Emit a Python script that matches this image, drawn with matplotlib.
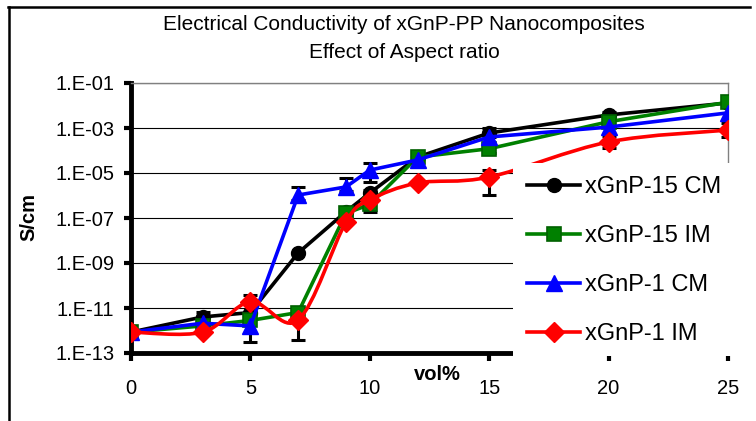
import matplotlib
matplotlib.use('Agg')
import matplotlib.pyplot as plt
import numpy as np
from matplotlib import ticker
from matplotlib.lines import Line2D
from matplotlib.patches import Rectangle, PathPatch
from matplotlib.path import Path

# data (S/cm vs vol%)
vol = [0, 3, 5, 7, 9, 10, 12, 15, 20, 25]
cm15 = [8.5e-13, 4.0e-12, 6.3e-12, 2.8e-9, 1.9e-7, 1.3e-6, 5.1e-5, 6.0e-4, 3.8e-3, 1.3e-2]
im15 = [8.5e-13, 1.6e-12, 2.8e-12, 6.3e-12, 1.6e-7, 4.0e-7, 5.1e-5, 1.2e-4, 1.9e-3, 1.4e-2]
cm1 = [8.5e-13, 2.1e-12, 1.6e-12, 1.05e-6, 2.4e-6, 1.35e-5, 3.8e-5, 4.0e-4, 1.1e-3, 4.7e-3]
im1 = [8.5e-13, 8.5e-13, 1.9e-11, 2.9e-12, 6.6e-8, 6.3e-7, 3.6e-6, 6.6e-6, 2.4e-4, 8.1e-4]

# error bar bounds (low, high); nan = none visible
nan = np.nan
cm15_lo = [nan, 2.5e-12, 3.2e-13, nan, 1.2e-7, 5.0e-7, nan, 4.0e-4, 2.5e-3, nan]
cm15_hi = [nan, 6.6e-12, 3.8e-11, nan, 3.2e-7, 1.7e-6, nan, 1.0e-3, 5.1e-3, nan]
im15_lo = [nan, nan, nan, 3.8e-13, nan, 1.9e-7, nan, 7.9e-5, nan, 1.0e-2]
im15_hi = [nan, nan, nan, 1.0e-11, nan, 7.9e-7, nan, 1.6e-4, nan, 1.8e-2]
cm1_lo = [nan, nan, nan, 6.3e-7, 1.6e-6, 4.0e-6, nan, nan, nan, nan]
cm1_hi = [nan, nan, nan, 2.4e-6, 6.0e-6, 2.75e-5, nan, nan, nan, nan]
im1_lo = [nan, nan, nan, nan, nan, nan, nan, 1.05e-6, 1.3e-4, 4.0e-4]
im1_hi = [nan, nan, nan, nan, nan, nan, nan, 1.35e-5, 4.5e-4, 1.66e-3]

labels = ['xGnP-15 CM', 'xGnP-15 IM', 'xGnP-1 CM', 'xGnP-1 IM']
title1 = 'Electrical Conductivity of xGnP-PP Nanocomposites'
title2 = 'Effect of Aspect ratio'

W, H = 756, 421
def fx(p):
    return p / W
def fy(p):
    return 1 - p / H

plt.rcParams['font.family'] = ['Liberation Sans', 'DejaVu Sans']
fig = plt.figure(figsize=(7.56, 4.21), dpi=100)
ax = fig.add_axes([fx(131), fy(353), fx(728) - fx(131), fy(83) - fy(353)])
ax.set_yscale('log')
ax.set_xlim(0, 25)
ax.set_ylim(1e-13, 1e-1)

# error bars (black)
for v, lo, hi in [(cm15, cm15_lo, cm15_hi), (im15, im15_lo, im15_hi),
                  (cm1, cm1_lo, cm1_hi), (im1, im1_lo, im1_hi)]:
    v = np.asarray(v); lo = np.asarray(lo); hi = np.asarray(hi)
    m = ~np.isnan(lo)
    xs = np.asarray(vol)[m]
    ax.errorbar(xs, v[m], yerr=[v[m] - lo[m], hi[m] - v[m]], fmt='none',
                ecolor='k', elinewidth=2.2, capsize=5, capthick=2.2, zorder=2)

lw = 2.6
h1, = ax.plot(vol, cm15, color='k', lw=lw, marker='o', ms=10, zorder=3)
h2, = ax.plot(vol, im15, color='#008000', lw=lw, marker='s', ms=9.5,
              mfc='#008000', mec='#006000', mew=1.2, zorder=4)
h3, = ax.plot(vol, cm1, color='#0000ff', lw=lw, marker='^', ms=11, zorder=5)

# smoothed red line (Catmull-Rom style bezier, in x / log10(y) space)
px = np.asarray(vol, dtype=float)
py = np.log10(im1)
pts = np.column_stack([px, py])
ext = np.vstack([pts[0], pts, pts[-1]])
verts = [tuple(pts[0])]
codes = [Path.MOVETO]
for i in range(len(pts) - 1):
    p0, p1, p2, p3 = ext[i], ext[i + 1], ext[i + 2], ext[i + 3]
    c1 = p1 + (p2 - p0) / 6.0
    c2 = p2 - (p3 - p1) / 6.0
    verts += [tuple(c1), tuple(c2), tuple(p2)]
    codes += [Path.CURVE4] * 3
verts = np.array(verts)
verts[:, 1] = 10 ** verts[:, 1]
ax.add_patch(PathPatch(Path(verts, codes), fill=False, edgecolor='#ff0000',
                       lw=lw, zorder=6, capstyle='round', joinstyle='round'))
ax.plot(vol, im1, ls='none', marker='D', ms=10, color='#ff0000', zorder=7)
h4 = Line2D([], [], color='#ff0000', lw=lw, marker='D', ms=10)

# axes styling
ax.yaxis.set_major_locator(ticker.FixedLocator([10.0 ** e for e in range(-13, 0, 2)]))
ax.yaxis.set_minor_locator(ticker.NullLocator())
ax.yaxis.set_major_formatter(ticker.FuncFormatter(
    lambda v, p: '1.E-%02d' % int(round(-np.log10(v)))))
ax.set_xticks([0, 5, 10, 15, 20, 25])
ax.grid(axis='y', color='k', lw=0.8)
ax.set_axisbelow(True)
for s in ['left', 'bottom']:
    ax.spines[s].set_linewidth(3.5)
    ax.spines[s].set_color('k')
for s in ['top', 'right']:
    ax.spines[s].set_linewidth(1.0)
    ax.spines[s].set_color('#808080')
ax.tick_params(axis='y', which='major', direction='out', length=5, width=3,
               labelsize=14.5, pad=7)
ax.tick_params(axis='x', which='major', direction='out', length=6, width=3,
               labelsize=14.5, pad=13)

fig.text(fx(29), fy(217), 'S/cm', rotation=90, ha='center', va='center',
         fontsize=14.5, fontweight='bold')
fig.text(fx(437), fy(375), 'vol%', ha='center', va='center',
         fontsize=14.5, fontweight='bold')
fig.text(fx(404), fy(25), title1, ha='center', va='center', fontsize=15)
fig.text(fx(404), fy(53), title2, ha='center', va='center', fontsize=15)

# white legend box covering the plot corner
fig.add_artist(Rectangle((fx(513), fy(355.5)), fx(756) - fx(513), fy(163) - fy(355.5),
                         transform=fig.transFigure, facecolor='white',
                         edgecolor='none', zorder=1))
leg = fig.legend([h1, h2, h3, h4], labels, loc='upper left',
                 bbox_to_anchor=(fx(527), fy(176)), bbox_transform=fig.transFigure,
                 frameon=False, borderpad=0, fontsize=17, handlelength=2.25,
                 handletextpad=0.2, labelspacing=1.15, numpoints=1, borderaxespad=0)
leg.set_zorder(2)

# outer chart border (left and top)
fig.add_artist(Line2D([fx(8.5), fx(8.5)], [fy(7), 0], transform=fig.transFigure,
                      color='k', lw=1.8, zorder=3))
fig.add_artist(Line2D([fx(7.5), fx(750)], [fy(7), fy(7)], transform=fig.transFigure,
                      color='k', lw=1.8, zorder=3))

fig.savefig('out.png', dpi=100)
plt.close()
